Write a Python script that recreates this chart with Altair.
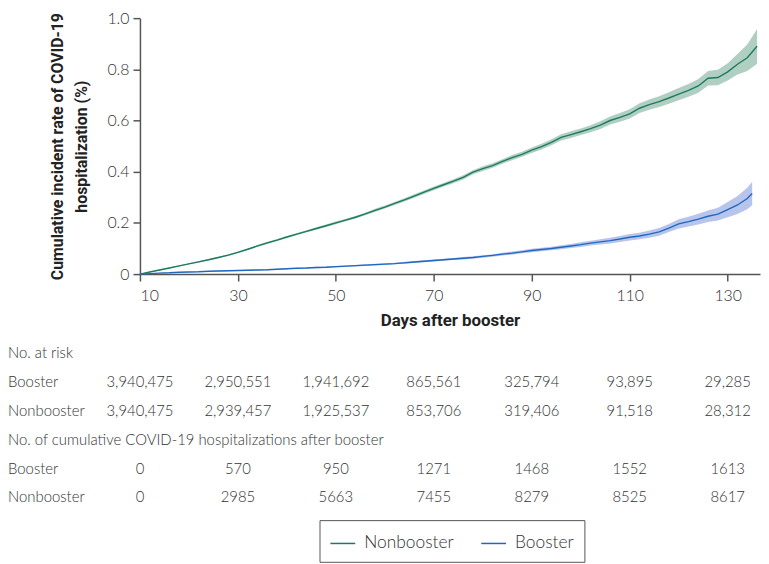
import altair as alt
import pandas as pd

# ---------------- data ----------------
days_nonbooster = list(range(10, 137, 2))
nonbooster_rate = [
    0.000, 0.008, 0.016, 0.024, 0.032, 0.040, 0.048, 0.056, 0.065, 0.074, 0.085,
    0.097, 0.110, 0.122, 0.133, 0.145, 0.156, 0.167, 0.178, 0.189, 0.200,
    0.211, 0.222, 0.235, 0.249, 0.262, 0.276, 0.290, 0.305, 0.320, 0.335,
    0.349, 0.363, 0.378, 0.398, 0.412, 0.424, 0.440, 0.455, 0.468, 0.484,
    0.498, 0.515, 0.534, 0.545, 0.556, 0.568, 0.582, 0.600, 0.612, 0.626,
    0.648, 0.662, 0.674, 0.688, 0.703, 0.718, 0.735, 0.765, 0.768, 0.790,
    0.820, 0.845, 0.890,
]
nonbooster_ci = [
    0.001, 0.001, 0.002, 0.002, 0.002, 0.002, 0.003, 0.003, 0.003, 0.003, 0.003,
    0.003, 0.004, 0.004, 0.004, 0.004, 0.004, 0.004, 0.005, 0.005, 0.005,
    0.005, 0.005, 0.005, 0.006, 0.006, 0.006, 0.006, 0.007, 0.007, 0.007,
    0.007, 0.008, 0.008, 0.008, 0.009, 0.009, 0.009, 0.010, 0.010, 0.011,
    0.011, 0.012, 0.012, 0.013, 0.013, 0.014, 0.015, 0.016, 0.017, 0.018,
    0.019, 0.020, 0.021, 0.022, 0.024, 0.025, 0.027, 0.028, 0.030, 0.034,
    0.040, 0.052, 0.068,
]

days_booster = list(range(10, 135, 2)) + [135]
booster_rate = [
    0.000, 0.002, 0.004, 0.005, 0.007, 0.008, 0.009, 0.011, 0.012, 0.013, 0.014,
    0.015, 0.016, 0.017, 0.019, 0.021, 0.023, 0.024, 0.026, 0.027, 0.029,
    0.031, 0.033, 0.035, 0.037, 0.039, 0.041, 0.044, 0.047, 0.050, 0.053,
    0.056, 0.059, 0.062, 0.065, 0.069, 0.073, 0.078, 0.082, 0.087, 0.092,
    0.096, 0.100, 0.105, 0.110, 0.115, 0.121, 0.126, 0.131, 0.137, 0.144,
    0.149, 0.156, 0.165, 0.180, 0.196, 0.205, 0.215, 0.226, 0.234, 0.252,
    0.270, 0.295, 0.315,
]
booster_ci = [
    0.000, 0.001, 0.001, 0.001, 0.001, 0.001, 0.001, 0.001, 0.002, 0.002, 0.002,
    0.002, 0.002, 0.002, 0.002, 0.002, 0.002, 0.002, 0.003, 0.003, 0.003,
    0.003, 0.003, 0.003, 0.003, 0.003, 0.003, 0.004, 0.004, 0.004, 0.004,
    0.004, 0.004, 0.005, 0.005, 0.005, 0.005, 0.005, 0.006, 0.006, 0.007,
    0.007, 0.007, 0.008, 0.008, 0.009, 0.009, 0.010, 0.011, 0.012, 0.013,
    0.013, 0.014, 0.015, 0.016, 0.018, 0.019, 0.021, 0.022, 0.025, 0.030,
    0.035, 0.042, 0.046,
]

groups = ["Nonbooster", "Booster"]
line_colors = ["#1b7a60", "#1f68c0"]
band_colors = ["#acccbf", "#b3c1ea"]

table_days = [10, 30, 50, 70, 90, 110, 130]
at_risk_booster = ["3,940,475", "2,950,551", "1,941,692", "865,561", "325,794", "93,895", "29,285"]
at_risk_nonbooster = ["3,940,475", "2,939,457", "1,925,537", "853,706", "319,406", "91,518", "28,312"]
hosp_booster = ["0", "570", "950", "1271", "1468", "1552", "1613"]
hosp_nonbooster = ["0", "2985", "5663", "7455", "8279", "8525", "8617"]
row_labels = [
    "No. at risk",
    "Booster",
    "Nonbooster",
    "No. of cumulative COVID-19 hospitalizations after booster",
    "Booster",
    "Nonbooster",
]

# ---------------- tables ----------------
curve_rows = []
for d, r, c in zip(days_nonbooster, nonbooster_rate, nonbooster_ci):
    curve_rows.append({"day": d, "rate": r, "lo": r - c, "hi": r + c, "group": "Nonbooster"})
for d, r, c in zip(days_booster, booster_rate, booster_ci):
    curve_rows.append({"day": d, "rate": r, "lo": r - c, "hi": r + c, "group": "Booster"})
curves = pd.DataFrame(curve_rows)

cells = []
for row_idx, values in [(1, at_risk_booster), (2, at_risk_nonbooster), (4, hosp_booster), (5, hosp_nonbooster)]:
    for d, v in zip(table_days, values):
        cells.append({"day": d, "row": row_idx, "text": v})
cells = pd.DataFrame(cells)
labels = pd.DataFrame({"row": list(range(len(row_labels))), "text": row_labels})

LABEL_FONT = "Lato"
TITLE_FONT = "Roboto"
TXT = "#333333"

x_scale = alt.Scale(domain=[10, 136.6], nice=False, zero=False)
y_scale = alt.Scale(domain=[0, 1], nice=False, zero=True)
row_scale = alt.Scale(domain=[0, 5], range=[338, 483])

x_enc = alt.X(
    "day:Q",
    scale=x_scale,
    axis=alt.Axis(
        values=table_days,
        title="Days after booster",
        titleFont=TITLE_FONT,
        titleFontSize=17,
        titleFontWeight="bold",
        titleColor="#222222",
        titlePadding=9,
        labelFont=LABEL_FONT,
        labelFontSize=16,
        labelFontWeight=300,
        labelColor=TXT,
        labelPadding=7,
        tickSize=7,
        tickColor="#555555",
        domainColor="#555555",
        domainWidth=1.5,
        tickWidth=1.5,
        grid=False,
    ),
)

bands = [
    alt.Chart(curves)
    .transform_filter(alt.datum.group == g)
    .mark_area(opacity=0.95)
    .encode(
        x=x_enc if i == 0 else alt.X("day:Q", scale=x_scale),
        y=alt.Y("lo:Q", scale=y_scale, axis=None),
        y2="hi:Q",
        fill=alt.value(c),
    )
    for i, (g, c) in enumerate(zip(groups, band_colors))
]

line = alt.Chart(curves).mark_line(strokeWidth=1.4).encode(
    x=alt.X("day:Q", scale=x_scale),
    y=alt.Y(
        "rate:Q",
        scale=y_scale,
        axis=alt.Axis(
            values=[0, 0.2, 0.4, 0.6, 0.8, 1.0],
            labelExpr="datum.value == 0 ? '0' : format(datum.value, '.1f')",
            title=["Cumulative incident rate of COVID-19", "hospitalization (%)"],
            titleFont=TITLE_FONT,
            titleFontSize=16,
            titleFontWeight="bold",
            titleColor="#222222",
            titlePadding=18,
            titleLineHeight=24,
            labelFont=LABEL_FONT,
            labelFontSize=16,
            labelFontWeight=300,
            labelColor=TXT,
            labelPadding=4,
            tickSize=7,
            tickColor="#555555",
            tickWidth=1.5,
            domainColor="#555555",
            domainWidth=1.5,
            grid=False,
        ),
    ),
    stroke=alt.Stroke(
        "group:N",
        scale=alt.Scale(domain=groups, range=line_colors),
        sort=groups,
        legend=alt.Legend(
            title=None,
            orient="none",
            legendX=181,
            legendY=506,
            direction="horizontal",
            symbolType="stroke",
            symbolSize=625,
            symbolStrokeWidth=1.5,
            labelFont=LABEL_FONT,
            labelFontSize=17.5,
            labelFontWeight=300,
            labelColor=TXT,
            labelOffset=8,
            columnPadding=24,
            padding=10,
            strokeColor="#555555",
        ),
    ),
)

table = alt.Chart(cells).mark_text(
    font=LABEL_FONT, fontSize=15, fontWeight=300, color=TXT, align="center", baseline="middle"
).encode(
    x=alt.X("day:Q", scale=x_scale),
    y=alt.Y("row:Q", scale=row_scale, axis=None),
    text="text:N",
)

row_text = alt.Chart(labels).mark_text(
    font=LABEL_FONT, fontSize=15, fontWeight=300, color=TXT, align="left", baseline="middle"
).encode(
    x=alt.value(-133),
    y=alt.Y("row:Q", scale=row_scale, axis=None),
    text="text:N",
)

chart = (
    alt.layer(*bands, line, table, row_text)
    .resolve_scale(y="independent")
    .properties(
        width=625,
        height=258,
        autosize=alt.AutoSizeParams(type="none"),
        padding={"left": 133, "top": 8, "right": 1, "bottom": 290},
        background="white",
    )
    .configure_view(stroke=None)
)

chart.save("out.html", embed_options={"renderer": "svg", "actions": False})
